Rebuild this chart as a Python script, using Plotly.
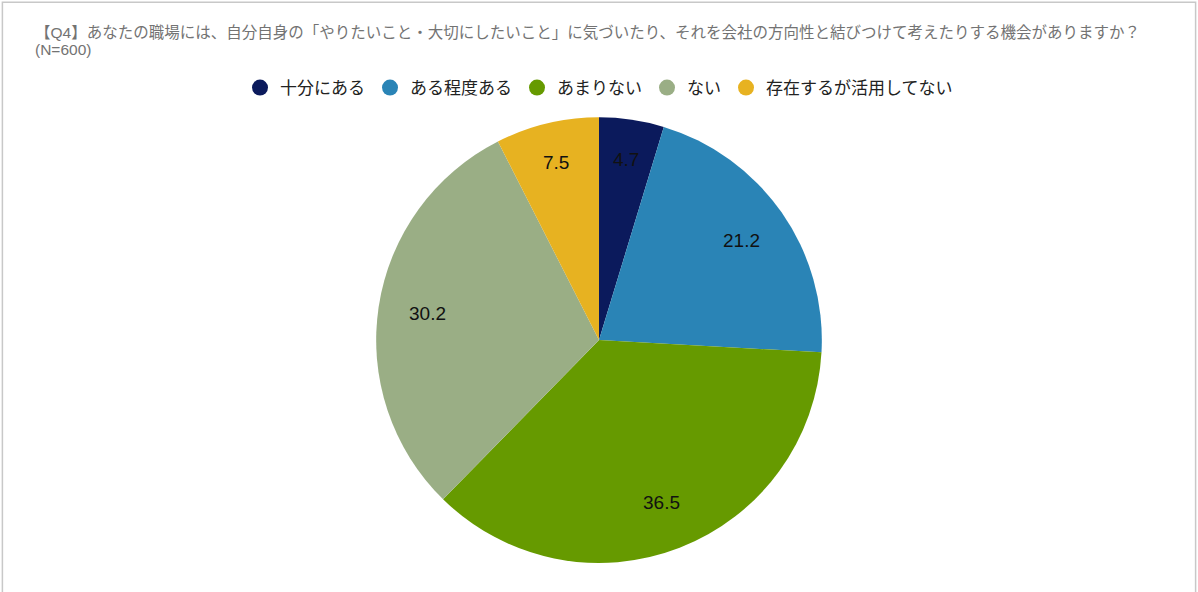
import math
import plotly.graph_objects as go

labels = ["十分にある", "ある程度ある", "あまりない", "ない", "存在するが活用してない"]
values = [4.7, 21.2, 36.5, 30.2, 7.5]
colors = ["#0b1a5c", "#2a84b6", "#669a00", "#9aae85", "#e7b221"]

title_line1 = "【Q4】あなたの職場には、自分自身の「やりたいこと・大切にしたいこと」に気づいたり、それを会社の方向性と結びつけて考えたりする機会がありますか？"
title_line2 = "(N=600)"

font_family = "Liberation Sans, Noto Sans CJK JP, sans-serif"

W, H = 1198, 592
dom_x = [0.314, 0.686]
dom_y = [0.049, 0.802]

fig = go.Figure()

fig.add_trace(go.Pie(
    labels=labels,
    values=values,
    marker=dict(colors=colors, line=dict(width=0)),
    sort=False,
    direction="clockwise",
    rotation=0,
    textinfo="none",
    hoverinfo="label+value",
    showlegend=False,
    domain=dict(x=dom_x, y=dom_y),
))

# value labels placed along each slice's mid angle
cx = (dom_x[0] + dom_x[1]) / 2
cy = (dom_y[0] + dom_y[1]) / 2
radius = min((dom_x[1] - dom_x[0]) * W, (dom_y[1] - dom_y[0]) * H) / 2
total = sum(values)
cum = 0
for v in values:
    ang = 2 * math.pi * (cum + v / 2) / total
    cum += v
    # thin slices get their label pushed further out
    r = (0.82 if v / total < 0.1 else 0.78) * radius
    fig.add_annotation(
        x=cx + r * math.sin(ang) / W, y=cy + r * math.cos(ang) / H,
        xref="paper", yref="paper", text=f"{v}", showarrow=False,
        xanchor="center", yanchor="middle",
        font=dict(size=19, color="#111111", family=font_family),
    )

# legend with round markers
for lab, col in zip(labels, colors):
    fig.add_trace(go.Scatter(
        x=[None], y=[None], mode="markers", name=lab,
        marker=dict(symbol="circle", size=17, color=col),
    ))

fig.add_annotation(
    text=title_line1, xref="paper", yref="paper", x=33 / W, y=1 - 32 / H,
    xanchor="left", yanchor="middle", align="left", showarrow=False,
    font=dict(size=15.5, color="#737373", family=font_family),
)
fig.add_annotation(
    text=title_line2, xref="paper", yref="paper", x=33 / W, y=1 - 49 / H,
    xanchor="left", yanchor="middle", align="left", showarrow=False,
    font=dict(size=15.5, color="#737373", family=font_family),
)

fig.add_shape(type="rect", xref="paper", yref="paper", x0=0.002, x1=0.998, y0=-0.01, y1=0.996,
              line=dict(color="#c8c8c8", width=1.5))

fig.update_layout(
    width=W, height=H,
    margin=dict(l=0, r=0, t=0, b=0),
    paper_bgcolor="white", plot_bgcolor="white",
    xaxis=dict(visible=False), yaxis=dict(visible=False),
    legend=dict(orientation="h", x=0.5, xanchor="center", y=1 - 88 / H, yanchor="middle",
                font=dict(size=17, color="#222222", family=font_family),
                itemwidth=30, tracegroupgap=0),
    font=dict(family=font_family),
)

fig.write_html("out.html", config={"displayModeBar": False},
               post_script="document.body.style.margin='0';")
